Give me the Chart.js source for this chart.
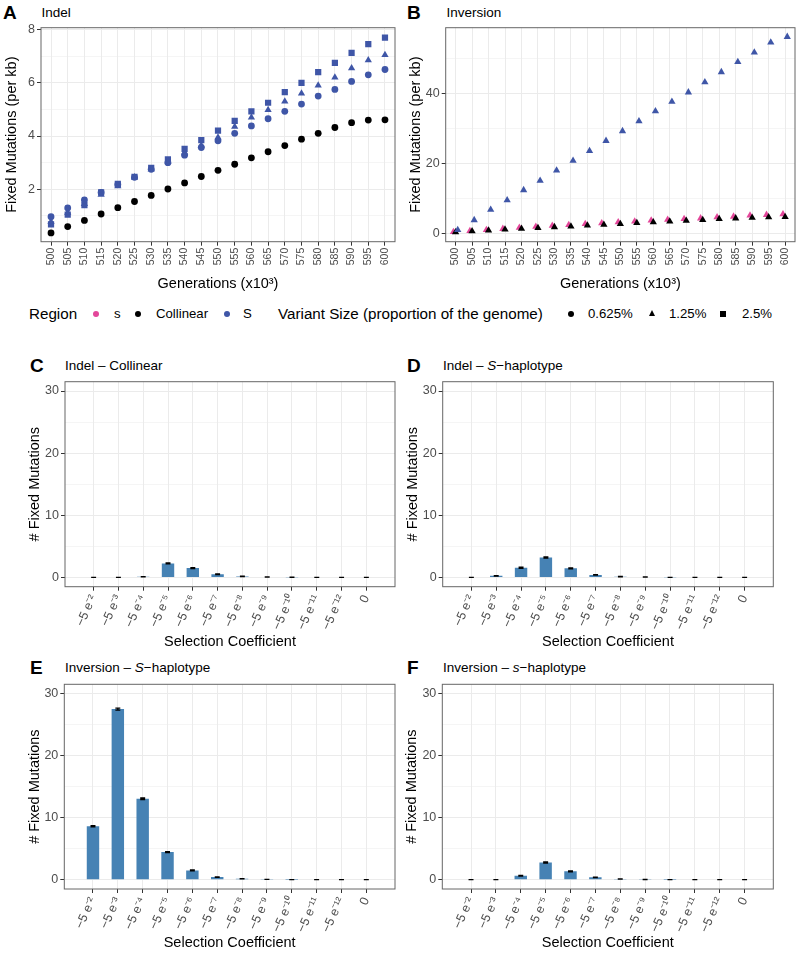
<!DOCTYPE html>
<html>
<head>
<meta charset="utf-8">
<script src="https://cdn.jsdelivr.net/npm/chart.js@4"></script>
<style>
  body { margin: 0; background: #fff; }
  #wrap { position: relative; width: 800px; height: 959px; background: #fff;
          font-family: 'Liberation Sans', Arial, Helvetica, sans-serif; color: #000; }
  .box { position: absolute; }
  .tag { position: absolute; font-weight: bold; font-size: 19px; line-height: 20px; height: 20px; }
  .ptitle { position: absolute; font-size: 13.5px; line-height: 20px; height: 20px; white-space: nowrap; }
  .lg { position: absolute; line-height: 20px; height: 20px; white-space: nowrap; }
  .lt { font-size: 15.2px; }
  .li { font-size: 13.2px; }
  .dot { position: absolute; width: 6px; height: 6px; border-radius: 50%; top: 7px; background: #000; }
  .tri { position: absolute; width: 0; height: 0; top: 6px;
         border-left: 3.5px solid transparent; border-right: 3.5px solid transparent; border-bottom: 6.5px solid #000; }
  .sq { position: absolute; width: 5.5px; height: 5.5px; top: 7px; background: #000; }
</style>
</head>
<body>
<div id="wrap">
  <!-- panel A / B -->
  <div class="tag" style="left:3px;top:3px">A</div>
  <div class="ptitle" style="left:41.5px;top:3px">Indel</div>
  <div class="box" style="left:0;top:0"><canvas id="cA" width="400" height="300"></canvas></div>

  <div class="tag" style="left:407px;top:3px">B</div>
  <div class="ptitle" style="left:446.5px;top:3px">Inversion</div>
  <div class="box" style="left:400px;top:0"><canvas id="cB" width="400" height="300"></canvas></div>

  <!-- shared legend -->
  <div class="lg" style="left:0;top:304px;width:800px">
    <span class="lg lt" style="left:29px">Region</span>
    <span class="dot" style="left:93px;background:#E3479A"></span>
    <span class="lg li" style="left:114px">s</span>
    <span class="dot" style="left:135px;background:#000"></span>
    <span class="lg li" style="left:156px">Collinear</span>
    <span class="dot" style="left:224px;background:#3F56A7"></span>
    <span class="lg li" style="left:243px">S</span>
    <span class="lg lt" style="left:278px">Variant Size (proportion of the genome)</span>
    <span class="dot" style="left:568px"></span>
    <span class="lg li" style="left:588px">0.625%</span>
    <span class="tri" style="left:648.5px"></span>
    <span class="lg li" style="left:669px">1.25%</span>
    <span class="sq" style="left:720px"></span>
    <span class="lg li" style="left:742px">2.5%</span>
  </div>

  <!-- panel C / D -->
  <div class="tag" style="left:30px;top:356px">C</div>
  <div class="ptitle" style="left:65px;top:356px">Indel – Collinear</div>
  <div class="box" style="left:0;top:340px"><canvas id="cC" width="400" height="315"></canvas></div>

  <div class="tag" style="left:407px;top:356px">D</div>
  <div class="ptitle" style="left:443px;top:356px">Indel – <i>S</i>−haplotype</div>
  <div class="box" style="left:400px;top:340px"><canvas id="cD" width="400" height="315"></canvas></div>

  <!-- panel E / F -->
  <div class="tag" style="left:30px;top:658px">E</div>
  <div class="ptitle" style="left:65px;top:658px">Inversion – <i>S</i>−haplotype</div>
  <div class="box" style="left:0;top:655px"><canvas id="cE" width="400" height="304"></canvas></div>

  <div class="tag" style="left:407px;top:658px">F</div>
  <div class="ptitle" style="left:443px;top:658px">Inversion – <i>s</i>−haplotype</div>
  <div class="box" style="left:400px;top:655px"><canvas id="cF" width="400" height="304"></canvas></div>
</div>

<script>
// --- data ---
const generations = [500, 505, 510, 515, 520, 525, 530, 535, 540, 545, 550,
                     555, 560, 565, 570, 575, 580, 585, 590, 595, 600];

// A: Indel (fixed mutations per kb)
const indelCollinear = [0.36, 0.60, 0.83, 1.07, 1.31, 1.54, 1.77, 2.01, 2.24, 2.48, 2.71,
                        2.94, 3.18, 3.41, 3.64, 3.88, 4.10, 4.32, 4.50, 4.60, 4.61];
const indelS0625 = [0.97, 1.30, 1.60, 1.88, 2.18, 2.45, 2.75, 3.00, 3.28, 3.57, 3.82,
                    4.10, 4.38, 4.65, 4.93, 5.20, 5.50, 5.75, 6.05, 6.30, 6.50];
const indelS125 = [0.78, 1.12, 1.45, 1.80, 2.12, 2.45, 2.75, 3.05, 3.38, 3.65, 3.95,
                   4.35, 4.70, 4.98, 5.30, 5.60, 5.90, 6.20, 6.55, 6.85, 7.05];
const indelS25 = [0.68, 1.05, 1.40, 1.88, 2.20, 2.47, 2.80, 3.12, 3.52, 3.85, 4.20,
                  4.57, 4.93, 5.25, 5.65, 6.00, 6.40, 6.75, 7.12, 7.45, 7.70];

// B: Inversion, 1.25% only
const invCollinear = [0.30, 0.60, 0.85, 1.10, 1.35, 1.55, 1.80, 2.00, 2.25, 2.50, 2.70,
                      2.95, 3.20, 3.40, 3.60, 3.85, 4.10, 4.30, 4.50, 4.60, 4.70];
const invSmallS = [0.40, 0.70, 1.00, 1.30, 1.60, 1.90, 2.20, 2.40, 2.70, 2.90, 3.20,
                   3.40, 3.70, 3.90, 4.10, 4.30, 4.60, 4.80, 5.10, 5.30, 5.50];
const invBigS = [0.95, 3.8, 6.8, 9.5, 12.4, 15.1, 18.0, 20.8, 23.6, 26.5, 29.3,
                 32.1, 35.0, 37.7, 40.4, 43.3, 46.2, 49.1, 51.8, 54.7, 56.3];

// C-F: fixed mutations by selection coefficient
const selCoefs = ['−5 e⁻²', '−5 e⁻³', '−5 e⁻⁴', '−5 e⁻⁵', '−5 e⁻⁶', '−5 e⁻⁷',
                  '−5 e⁻⁸', '−5 e⁻⁹', '−5 e⁻¹⁰', '−5 e⁻¹¹', '−5 e⁻¹²', '0'];
const indelCollinearBars = [0, 0, 0.1, 2.25, 1.5, 0.5, 0.15, 0.05, 0.02, 0, 0, 0];
const indelCollinearErr  = [0, 0, 0.02, 0.08, 0.07, 0.05, 0.03, 0.01, 0.01, 0, 0, 0];
const indelSBars = [0, 0.25, 1.55, 3.2, 1.45, 0.4, 0.12, 0.05, 0.01, 0, 0, 0];
const indelSErr  = [0, 0.03, 0.08, 0.1, 0.07, 0.04, 0.02, 0.01, 0, 0, 0, 0];
const invSBars = [8.6, 27.5, 13.05, 4.45, 1.5, 0.42, 0.15, 0.05, 0.01, 0, 0, 0];
const invSErr  = [0.1, 0.15, 0.12, 0.08, 0.06, 0.04, 0.02, 0.01, 0, 0, 0, 0];
const invSmallSBars = [0, 0, 0.62, 2.78, 1.35, 0.38, 0.1, 0.03, 0.01, 0, 0, 0];
const invSmallSErr  = [0, 0, 0.06, 0.09, 0.07, 0.04, 0.02, 0.01, 0, 0, 0, 0];

const ticksA = [2, 4, 6, 8];
const ticksB = [0, 20, 40];
const ticksBars = [0, 10, 20, 30];

// --- styling ---
const PINK = '#E3479A', BLUE = '#3F56A7', BLACK = '#000000', BAR = '#4682B4';
const GRID = '#EBEBEB', TICK = '#333333';
Chart.defaults.font.family = "'Liberation Sans', Arial, Helvetica, sans-serif";
Chart.defaults.color = '#4D4D4D';
Chart.defaults.animation = false;

// panel border drawn on top, like ggplot theme_bw
const frame = {
  id: 'frame',
  afterDatasetsDraw(chart) {
    const a = chart.chartArea, ctx = chart.ctx;
    ctx.save();
    ctx.strokeStyle = '#666';
    ctx.lineWidth = 1;
    ctx.strokeRect(a.left, a.top, a.right - a.left, a.bottom - a.top);
    ctx.restore();
  }
};

// simple error bars through the chart scales
const errorBars = {
  id: 'errorBars',
  afterDatasetsDraw(chart, args, opts) {
    if (!opts.values) return;
    const {x, y} = chart.scales, ctx = chart.ctx;
    const hw = x.getPixelForValue(0.1) - x.getPixelForValue(0);
    ctx.save();
    ctx.strokeStyle = '#000';
    ctx.lineWidth = 1.3;
    chart.data.datasets[0].data.forEach((d, i) => {
      const e = opts.values[i];
      const px = x.getPixelForValue(d.x);
      const lo = y.getPixelForValue(d.y - e), hi = y.getPixelForValue(d.y + e);
      ctx.beginPath();
      ctx.moveTo(px, lo); ctx.lineTo(px, hi);
      ctx.moveTo(px - hw, lo); ctx.lineTo(px + hw, lo);
      ctx.moveTo(px - hw, hi); ctx.lineTo(px + hw, hi);
      ctx.stroke();
    });
    ctx.restore();
  }
};

// major ticks plus ggplot-style minor breaks half-way between
function gridTicks(major) {
  const h = (major[1] - major[0]) / 2;
  const out = [];
  major.forEach(m => out.push(m - h, m));
  out.push(major[major.length - 1] + h);
  return out;
}

function yScale(major, min, max, width, title, titlePad) {
  const isMajor = v => major.includes(v);
  return {
    type: 'linear', min: min, max: max,
    afterBuildTicks: s => { s.ticks = gridTicks(major).filter(v => v >= min && v <= max).map(v => ({value: v})); },
    ticks: { callback: v => isMajor(v) ? v : '', font: {size: 12.5}, padding: 2 },
    grid: {
      color: GRID,
      lineWidth: c => isMajor(c.tick.value) ? 1 : 0.5,
      tickColor: c => isMajor(c.tick.value) ? TICK : 'rgba(0,0,0,0)',
      tickLength: 4
    },
    border: { display: false },
    title: { display: true, text: title, color: '#000', font: {size: 14.5}, padding: {top: titlePad, bottom: 0} },
    afterFit: s => { s.width = width; }
  };
}

function xScale(labels, height, rotation, fontSize, title, titlePad) {
  return {
    type: 'linear', min: -0.6, max: labels.length - 0.4,
    afterBuildTicks: s => { s.ticks = labels.map((_, i) => ({value: i})); },
    ticks: { callback: v => labels[v], minRotation: rotation, maxRotation: rotation,
             autoSkip: false, font: {size: fontSize}, padding: 2 },
    grid: { color: GRID, lineWidth: 1, tickColor: TICK, tickLength: 4, offset: false },
    border: { display: false },
    title: { display: true, text: title, color: '#000', font: {size: 14.5}, padding: {top: 0, bottom: titlePad} },
    afterFit: s => { s.height = height; }
  };
}

function pts(values, shift) {
  return values.map((v, i) => ({x: i + (shift || 0), y: v}));
}

function pointSet(label, values, color, style, radius, shift) {
  return {
    label: label, data: pts(values, shift), showLine: false,
    pointStyle: style, pointRadius: radius, pointHoverRadius: radius,
    backgroundColor: color, borderColor: color, pointBorderWidth: 0
  };
}

// --- A: Indel ---
new Chart(document.getElementById('cA'), {
  type: 'scatter',
  data: { datasets: [
    pointSet('Collinear 0.625%', indelCollinear, BLACK, 'circle', 3.4),
    pointSet('S 0.625%', indelS0625, BLUE, 'circle', 3.4),
    pointSet('S 1.25%', indelS125, BLUE, 'triangle', 4.2),
    pointSet('S 2.5%', indelS25, BLUE, 'rect', 4.4)
  ]},
  options: {
    responsive: false,
    layout: { padding: {top: 27.7, right: 5, left: 0, bottom: 0} },
    plugins: { legend: {display: false}, tooltip: {enabled: false} },
    scales: {
      x: xScale(generations, 58.3, 90, 10.5, 'Generations (x10³)', 7.3),
      y: yScale(ticksA, 0.03, 8.07, 41, 'Fixed Mutations (per kb)', 3.3)
    }
  },
  plugins: [frame]
});

// --- B: Inversion ---
const dodge = 0.13;
new Chart(document.getElementById('cB'), {
  type: 'scatter',
  data: { datasets: [
    pointSet('S 1.25%', invBigS, BLUE, 'triangle', 4.2, dodge),
    pointSet('Collinear 1.25%', invCollinear, BLACK, 'triangle', 4.2),
    pointSet('s 1.25%', invSmallS, PINK, 'triangle', 4.2, -dodge)
  ]},
  options: {
    responsive: false,
    layout: { padding: {top: 27.7, right: 5, left: 0, bottom: 0} },
    plugins: { legend: {display: false}, tooltip: {enabled: false} },
    scales: {
      x: xScale(generations, 58.3, 90, 10.5, 'Generations (x10³)', 7.3),
      y: yScale(ticksB, -2.4, 58.9, 45.7, 'Fixed Mutations (per kb)', 6.8)
    }
  },
  plugins: [frame]
});

// --- C-F: bars by selection coefficient ---
function barPanel(id, values, errs, yWidth, yTitlePad, top, rightPad, xHeight, xTitlePad) {
  new Chart(document.getElementById(id), {
    type: 'bar',
    data: { datasets: [{
      label: '# Fixed Mutations', data: pts(values),
      backgroundColor: BAR, borderWidth: 0,
      barPercentage: 0.5, categoryPercentage: 1.0
    }]},
    options: {
      responsive: false,
      layout: { padding: {top: top, right: rightPad, left: 0, bottom: 0} },
      plugins: { legend: {display: false}, tooltip: {enabled: false}, errorBars: {values: errs} },
      scales: {
        x: xScale(selCoefs, xHeight, 65, 12.5, 'Selection Coefficient', xTitlePad),
        y: yScale(ticksBars, -1.5, 31.5, yWidth, '# Fixed Mutations', yTitlePad)
      }
    },
    plugins: [frame, errorBars]
  });
}

barPanel('cC', indelCollinearBars, indelCollinearErr, 65, 26.3, 41.7, 5, 68.3, 4.3);
barPanel('cD', indelSBars, indelSErr, 42.7, 4.3, 41.7, 26.7, 68.3, 4.3);
barPanel('cE', invSBars, invSErr, 64.3, 26.3, 29.3, 5, 70, 7.3);
barPanel('cF', invSmallSBars, invSmallSErr, 42.3, 3.3, 29.3, 26.7, 70, 7.3);
</script>
</body>
</html>
